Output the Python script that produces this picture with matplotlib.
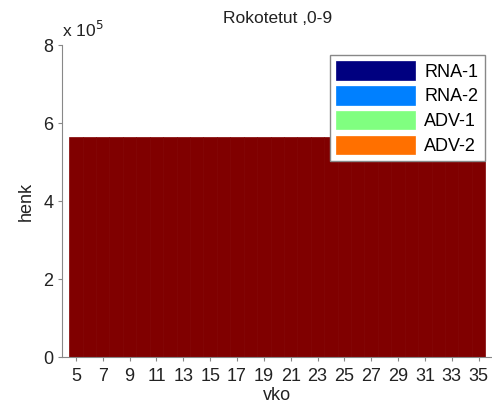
import numpy as np
import matplotlib.pyplot as plt

plt.rcParams['font.family'] = ['Liberation Sans', 'DejaVu Sans']

# weeks and stacked series (values in persons)
weeks = list(range(5, 36))
series_names = ['RNA-1', 'RNA-2', 'ADV-1', 'ADV-2', 'muut']
rna1 = [0] * len(weeks)
rna2 = [0] * len(weeks)
adv1 = [0] * len(weeks)
adv2 = [0] * len(weeks)
rest = [564000] * len(weeks)
colors = ['#000080', '#0080ff', '#80ff80', '#ff7000', '#800000']

fig = plt.figure(figsize=(4.92, 4.13), dpi=100)
ax = fig.add_axes([0.127, 0.135, 0.873, 0.756])

bottom = np.zeros(len(weeks))
handles = []
for name, vals, c in zip(series_names, [rna1, rna2, adv1, adv2, rest], colors):
    b = ax.bar(weeks, vals, width=1.0, bottom=bottom, color=c, edgecolor=c,
               linewidth=0.5, label=name)
    handles.append(b)
    bottom += np.array(vals)

fs = 13
ax.set_xlim(4, 36)
ax.set_ylim(0, 8e5)
ax.set_xticks(weeks[::2])
ax.set_yticks([0, 2e5, 4e5, 6e5, 8e5])
ax.set_yticklabels(['0', '2', '4', '6', '8'])
ax.text(0.0, 1.015, r'x 10$^5$', transform=ax.transAxes, fontsize=12.5,
        ha='left', va='bottom', color='#222222')
ax.spines['top'].set_visible(False)
ax.spines['right'].set_visible(False)
for s in ['left', 'bottom']:
    ax.spines[s].set_color('#888888')
ax.tick_params(colors='#888888', labelcolor='#222222', labelsize=fs, length=3)
ax.tick_params(axis='x', pad=5)

ax.set_title('Rokotetut ,0-9', fontsize=12.5, color='#222222', pad=16)
ax.set_xlabel('vko', fontsize=fs, color='#222222', labelpad=1)
ax.set_ylabel('henk', fontsize=fs, color='#222222', labelpad=6)

leg = ax.legend(handles[:4], series_names[:4], loc='upper right',
                bbox_to_anchor=(0.983, 0.968), fontsize=fs, frameon=True,
                framealpha=1, fancybox=False, handlelength=4.4,
                handleheight=1.2, labelspacing=0.3, borderpad=0.35,
                handletextpad=0.5, borderaxespad=0)
leg.get_frame().set_edgecolor('#888888')
leg.get_frame().set_linewidth(1)

fig.savefig('out.png', dpi=100)
